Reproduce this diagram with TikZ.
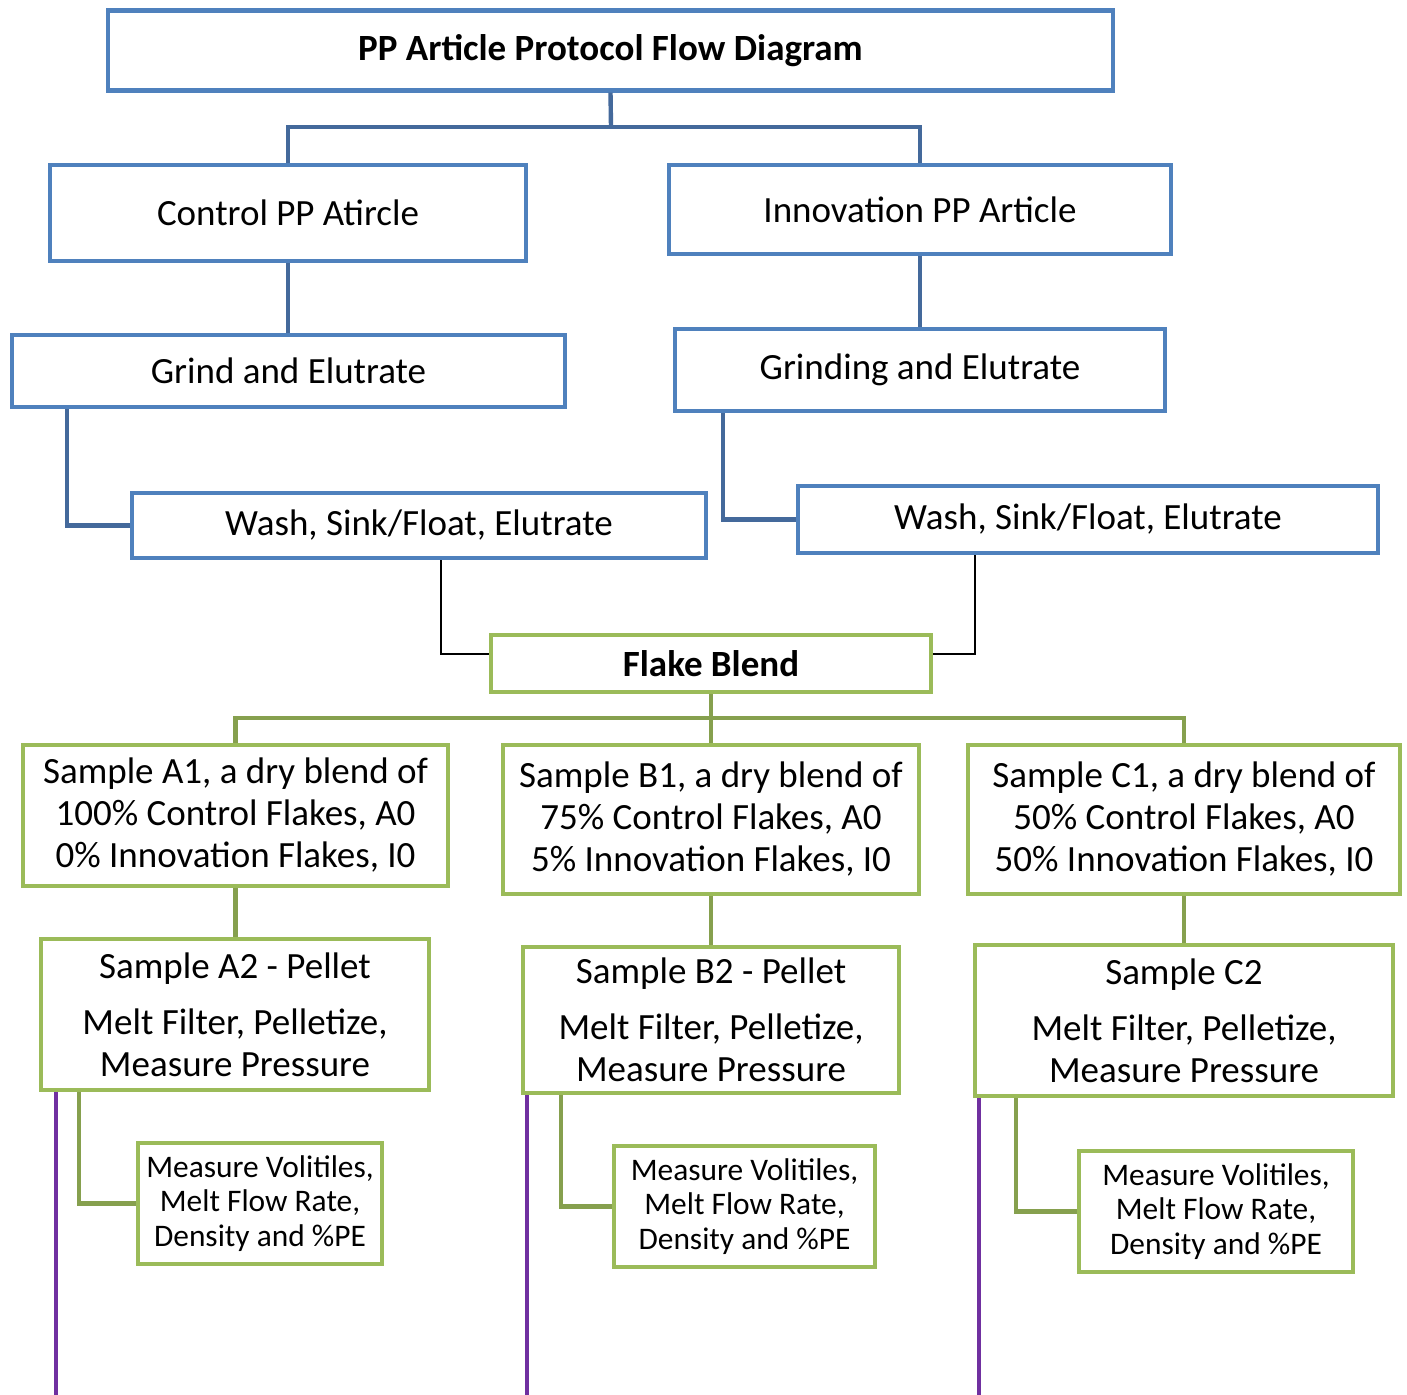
\documentclass[tikz,border=0pt]{standalone}
\usepackage{fontspec}
\setmainfont{Carlito}
\definecolor{azul}{HTML}{4F81BD}
\definecolor{azulosc}{HTML}{44699B}
\definecolor{verde}{HTML}{9BBB59}
\definecolor{verdeosc}{HTML}{86A04E}
\definecolor{morado}{HTML}{7030A0}
\begin{document}
\begin{tikzpicture}[x=0.5pt,y=-0.5pt,
  caja/.style={draw, fill=white, line width=2.2pt, inner sep=0pt, align=center,
    font=\fontsize{18.5}{21}\selectfont},
  cajaazul/.style={caja, draw=azul},
  cajaverde/.style={caja, draw=verde},
  medir/.style={cajaverde, font=\fontsize{15.7}{17.25}\selectfont},
  unionazul/.style={draw=azulosc, line width=2.2pt},
  unionverde/.style={draw=verdeosc, line width=2.2pt},
  unionnegra/.style={draw=black, line width=1pt},
  unionmorada/.style={draw=morado, line width=1.8pt}]
\useasboundingbox (0,0) rectangle (1407,1395);

% Las cajas azules de arriba
\node[cajaazul, minimum width=1005pt*0.5, minimum height=80pt*0.5, font=\bfseries\fontsize{18.5}{21}\selectfont] (titulo) at (610.5,50.5) {PP Article Protocol Flow Diagram};
\node[cajaazul, minimum width=476pt*0.5, minimum height=96pt*0.5] (control) at (288,213) {Control PP Atircle};
\node[cajaazul, minimum width=502pt*0.5, minimum height=89pt*0.5] (innov) at (920,209.5) {Innovation PP Article};
\node[cajaazul, minimum width=553pt*0.5, minimum height=72pt*0.5] (moler1) at (288.5,371) {Grind and Elutrate};
\node[cajaazul, minimum width=490pt*0.5, minimum height=82pt*0.5] (moler2) at (920,370) {Grinding and Elutrate};
\node[cajaazul, minimum width=574pt*0.5, minimum height=65pt*0.5] (lavar1) at (419,525.5) {Wash, Sink/Float, Elutrate};
\node[cajaazul, minimum width=580pt*0.5, minimum height=67pt*0.5] (lavar2) at (1088,519.5) {Wash, Sink/Float, Elutrate};

% La mezcla y las muestras en verde
\node[cajaverde, minimum width=440pt*0.5, minimum height=57pt*0.5, font=\bfseries\fontsize{18.5}{21}\selectfont] (mezcla) at (711,663.5) {Flake Blend};
\node[cajaverde, minimum width=425pt*0.5, minimum height=141pt*0.5] (A1) at (235.5,815.5) {Sample A1, a dry blend of\\100\% Control Flakes, A0\\0\% Innovation Flakes, I0};
\node[cajaverde, minimum width=416pt*0.5, minimum height=149pt*0.5] (B1) at (711,819.5) {Sample B1, a dry blend of\\75\% Control Flakes, A0\\5\% Innovation Flakes, I0};
\node[cajaverde, minimum width=432pt*0.5, minimum height=149pt*0.5] (C1) at (1184,819.5) {Sample C1, a dry blend of\\50\% Control Flakes, A0\\50\% Innovation Flakes, I0};
\node[cajaverde, minimum width=388pt*0.5, minimum height=151pt*0.5] (A2) at (235,1014.5) {Sample A2 - Pellet\\[7pt]Melt Filter, Pelletize,\\Measure Pressure};
\node[cajaverde, minimum width=376pt*0.5, minimum height=146pt*0.5] (B2) at (711,1020) {Sample B2 - Pellet\\[7pt]Melt Filter, Pelletize,\\Measure Pressure};
\node[cajaverde, minimum width=418pt*0.5, minimum height=151pt*0.5] (C2) at (1184,1020.5) {Sample C2\\[7pt]Melt Filter, Pelletize,\\Measure Pressure};

% Las medidas, con letra mas pequena
\node[medir, minimum width=244pt*0.5, minimum height=121pt*0.5] (medA) at (260,1203.5) {Measure Volitiles,\\Melt Flow Rate,\\Density and \%PE};
\node[medir, minimum width=261pt*0.5, minimum height=121pt*0.5] (medB) at (744.5,1206.5) {Measure Volitiles,\\Melt Flow Rate,\\Density and \%PE};
\node[medir, minimum width=274pt*0.5, minimum height=121pt*0.5] (medC) at (1216,1211.5) {Measure Volitiles,\\Melt Flow Rate,\\Density and \%PE};

% Uniones azules
\coordinate (bifurca) at (611,127);
\draw[unionazul] (titulo.south) -- (bifurca);
\draw[unionazul] (control.north) |- (bifurca) -| (innov.north);
\draw[unionazul] (control.south) -- (control.south |- moler1.north);
\draw[unionazul] (innov.south) -- (innov.south |- moler2.north);
\draw[unionazul] (moler1.south -| 67,0) |- (lavar1.west);
\draw[unionazul] (moler2.south -| 723,0) |- (lavar2.west);

% Uniones negras finas hacia la mezcla
\draw[unionnegra] (lavar1.south -| 441,0) |- ([yshift=4.75pt]mezcla.west);
\draw[unionnegra] (lavar2.south -| 975,0) |- ([yshift=4.75pt]mezcla.east);

% Uniones verdes
\coordinate (rama) at (711,718);
\draw[unionverde] (mezcla.south) -- (rama);
\draw[unionverde] (A1.north) |- (rama) -| (C1.north);
\draw[unionverde] (rama) -- (B1.north);
\foreach \m in {A,B,C}
  \draw[unionverde] (\m1.south) -- (\m1.south |- \m2.north);
\draw[unionverde] (A2.south -| 79,0) |- (medA.west);
\draw[unionverde] (B2.south -| 561,0) |- (medB.west);
\draw[unionverde] (C2.south -| 1016,0) |- (medC.west);

% Lineas moradas hasta abajo
\coordinate (finA) at (56,1395);
\coordinate (finB) at (527,1395);
\coordinate (finC) at (979,1395);
\foreach \m in {A,B,C}
  \draw[unionmorada] (\m2.south -| fin\m) -- (fin\m);
\end{tikzpicture}
\end{document}
